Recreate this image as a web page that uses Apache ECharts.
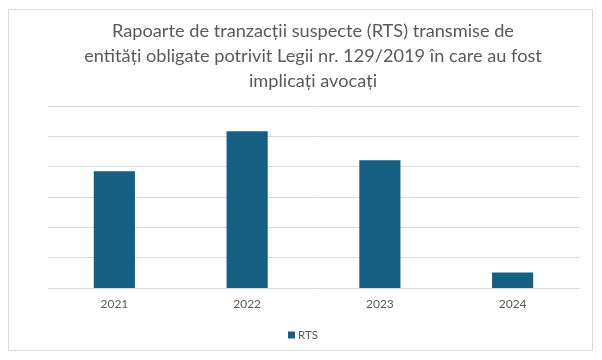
<!DOCTYPE html>
<html>
<head>
<meta charset="utf-8">
<script src="https://cdn.jsdelivr.net/npm/echarts@6/dist/echarts.min.js"></script>
<style>
html,body{margin:0;padding:0;background:#fff;}
#c{width:602px;height:360px;}
</style>
</head>
<body>
<div id="c"></div>
<script>
const titleText = 'Rapoarte de tranzacții suspecte (RTS) transmise de\nentități obligate potrivit Legii nr. 129/2019 în care au fost\nimplicați avocați';
const categories = ['2021', '2022', '2023', '2024'];
const seriesName = 'RTS';
const rtsValues = [38.5, 51.7, 42.1, 5.1];

const chart = echarts.init(document.getElementById('c'), null, {renderer: 'canvas'});
chart.setOption({
  animation: false,
  backgroundColor: '#ffffff',
  graphic: [{
    type: 'rect',
    shape: {x: 8.5, y: 9.5, width: 584, height: 341},
    style: {fill: 'none', stroke: '#d9d9d9', lineWidth: 1},
    silent: true, z: -1
  }, {
    type: 'text',
    x: 313,
    y: 19,
    silent: true,
    style: {
      text: titleText,
      textAlign: 'center',
      textVerticalAlign: 'top',
      fontFamily: 'Lato',
      fontSize: 18.2,
      lineHeight: 25,
      fill: '#595959'
    }
  }],
  legend: {
    bottom: 19,
    left: 288,
    padding: 0,
    itemWidth: 7,
    itemHeight: 7,
    icon: 'rect',
    textStyle: {fontFamily: 'Lato', fontSize: 11.5, color: '#595959', padding: [0, 0, 0, -2]},
    data: [seriesName]
  },
  grid: {left: 48, right: 23, top: 106, bottom: 72, containLabel: false},
  xAxis: {
    type: 'category',
    data: categories,
    axisLine: {lineStyle: {color: '#d9d9d9', width: 1}},
    axisTick: {show: false},
    axisLabel: {fontFamily: 'Lato', fontSize: 12, color: '#595959', margin: 10}
  },
  yAxis: {
    type: 'value',
    min: 0,
    max: 60,
    interval: 10,
    axisLabel: {show: false},
    axisLine: {show: false},
    axisTick: {show: false},
    splitLine: {lineStyle: {color: '#d9d9d9', width: 1}}
  },
  series: [{
    name: seriesName,
    type: 'bar',
    data: rtsValues,
    barWidth: '31%',
    itemStyle: {color: '#156082'}
  }]
});
</script>
</body>
</html>
